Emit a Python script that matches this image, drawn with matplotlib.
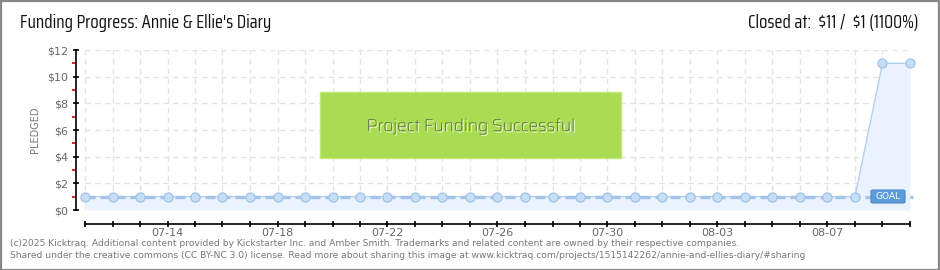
import matplotlib
matplotlib.use("Agg")
import matplotlib.pyplot as plt
from matplotlib.patches import Rectangle, FancyBboxPatch
import matplotlib.patheffects as pe
import numpy as np
import datetime as dt

# ---- data ----
start_date = dt.date(2025, 7, 11)
n_days = 31
dates = [start_date + dt.timedelta(days=i) for i in range(n_days)]
pledged = [1] * 29 + [11, 11]
goal = 1
yticks = [0, 2, 4, 6, 8, 10, 12]
ytick_labels = ["$0", "$2", "$4", "$6", "$8", "$10", "$12"]
xlabel_every = 4
title = "Funding Progress: Annie & Ellie's Diary"
closed_text = "Closed at:  \\$11 /  \\$1 (1100%)"
banner_text = "Project Funding Successful"
footer1 = "(c)2025 Kicktraq. Additional content provided by Kickstarter Inc. and Amber Smith. Trademarks and related content are owned by their respective companies."
footer2 = "Shared under the creative commons (CC BY-NC 3.0) license. Read more about sharing this image at www.kicktraq.com/projects/1515142262/annie-and-ellies-diary/#sharing"

HEAD_FONT = ["Saira Condensed", "Saira Semi Condensed", "Archivo Narrow", "DejaVu Sans"]
BANNER_FONT = ["Saira Semi Condensed", "Saira", "Saira Condensed", "Archivo Narrow", "DejaVu Sans"]

W, H = 940, 270
fig = plt.figure(figsize=(W / 100, H / 100), dpi=100)
fig.patch.set_facecolor("white")

def px(x0, y0, x1, y1):
    return [x0 / W, 1 - y1 / H, (x1 - x0) / W, (y1 - y0) / H]

ax = fig.add_axes(px(76, 50, 910, 210))
x = np.arange(n_days)
step = 27.5
xmin = -9 / step
ax.set_xlim(xmin, n_days - 1)
ax.set_ylim(0, 12)
ax.patch.set_alpha(0)

# grid
for yv in yticks:
    ax.plot([0, n_days - 1], [yv, yv], color="#e3e3e3", lw=1, ls=(0, (4, 3)), zorder=1)
for xv in x:
    ax.plot([xv, xv], [0, 12], color="#e3e3e3", lw=1, ls=(0, (4, 3)), zorder=1)

# fill and line
ax.fill_between(x, 0, pledged, color="#eaf3fd", zorder=2, lw=0)
ax.plot(x, pledged, color="#b3d0f0", lw=1, zorder=3)
ax.plot([0, n_days - 1 + 0.1], [goal, goal], color="#a3c3ea", lw=2.4, ls=(0, (3, 1.5)), zorder=4, clip_on=False)
ax.plot(x, pledged, ls="none", marker="o", ms=6.6, mfc="#c6ddf6", mec="#9dbfe6", mew=0.8, zorder=5, clip_on=False)

# spines
for s in ["top", "right"]:
    ax.spines[s].set_visible(False)
ax.spines["left"].set_bounds(0, 12)
ax.spines["left"].set_color("black")
ax.spines["left"].set_linewidth(1.2)
ax.spines["bottom"].set_position(("outward", 10))
ax.spines["bottom"].set_bounds(0, n_days - 1)
ax.spines["bottom"].set_linewidth(1.2)

ax.set_yticks(yticks)
ax.set_yticklabels(ytick_labels)
ax.set_yticks([1, 3, 5, 7, 9, 11], minor=True)
ax.tick_params(axis="y", which="major", direction="inout", length=5, width=1.2, colors="black",
               labelcolor="#666666", labelsize=8, pad=3)
ax.tick_params(axis="y", which="minor", direction="out", length=3, width=1.2, colors="#e00000")
ax.set_xticks(x)
ax.set_xticklabels([d.strftime("%m-%d") if (i - 3) % xlabel_every == 0 else "" for i, d in enumerate(dates)])
ax.tick_params(axis="x", which="major", direction="inout", length=4, width=1.2, colors="black",
               labelcolor="#666666", labelsize=8, pad=1)
for lab in ax.get_yticklabels() + ax.get_xticklabels():
    lab.set_family(["DejaVu Sans"])

ax.set_ylabel("PLEDGED", color="#777777", fontsize=7, fontfamily="DejaVu Sans")
ax.yaxis.set_label_coords((40 - 76) / 834, 0.5)

# banner
bx0, by0, bx1, by1 = 320, 92, 621, 158
fig.patches.append(Rectangle((bx0 / W, 1 - by1 / H), (bx1 - bx0) / W, (by1 - by0) / H,
                             transform=fig.transFigure, facecolor="#a9dc52", edgecolor="#bfe87a",
                             lw=1, zorder=10))
fig.text((bx0 + bx1) / 2 / W, 1 - 126 / H, banner_text, ha="center", va="center", fontsize=12.2,
         color="#4a4a4a", family=BANNER_FONT, weight="medium", zorder=11,
         path_effects=[pe.withSimplePatchShadow(offset=(1, -1), shadow_rgbFace="white", alpha=1.0)])

# goal tag
gx0, gy0, gx1, gy1 = 871, 190, 905, 203
fig.patches.append(FancyBboxPatch((gx0 / W, 1 - gy1 / H), (gx1 - gx0) / W, (gy1 - gy0) / H,
                                  boxstyle="round,pad=0,rounding_size=0.003", transform=fig.transFigure,
                                  facecolor="#5b9bd9", edgecolor="#4a8ad0", lw=0.8, zorder=10))
fig.text((gx0 + gx1) / 2 / W, 1 - 196.5 / H, "GOAL", ha="center", va="center", fontsize=6.5,
         color="white", family="DejaVu Sans", zorder=11)

# titles
fig.text(20 / W, 1 - 23 / H, title, ha="left", va="center", fontsize=13.4, color="#111111",
         family=HEAD_FONT)
fig.text(918 / W, 1 - 23 / H, closed_text, ha="right", va="center", fontsize=13.4, color="#111111",
         family=HEAD_FONT)

# footer
fig.text(10 / W, 1 - 243 / H, footer1, ha="left", va="center", fontsize=6.6, color="#777777",
         family="DejaVu Sans")
fig.text(10 / W, 1 - 256 / H, footer2, ha="left", va="center", fontsize=6.6, color="#777777",
         family="DejaVu Sans")

# frame
fig.patches.append(Rectangle((0.5 / W, 0.5 / H), (W - 1.5) / W, (H - 1.5) / H, transform=fig.transFigure,
                             facecolor="none", edgecolor="#888888", lw=1.6, zorder=20))

fig.savefig("out.png", dpi=100, facecolor="white")
